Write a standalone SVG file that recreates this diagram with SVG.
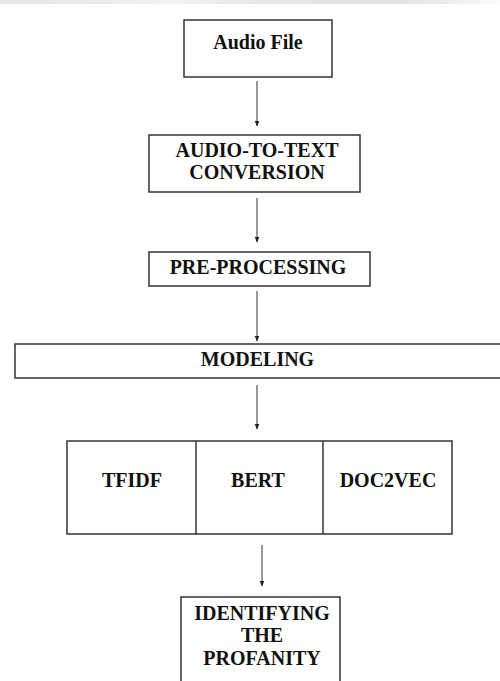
<svg xmlns="http://www.w3.org/2000/svg" width="500" height="681" viewBox="0 0 500 681">
<defs>
<marker id="ah" viewBox="0 0 6 6" refX="5.5" refY="3" markerWidth="6" markerHeight="6" markerUnits="userSpaceOnUse" orient="auto">
<path d="M0,0.5 L6,3 L0,5.5 Z" fill="#222"/>
</marker>
<linearGradient id="band" x1="0" y1="0" x2="1" y2="0">
<stop offset="0" stop-color="#e4e4e4"/>
<stop offset="0.35" stop-color="#f2f2f2"/>
<stop offset="0.55" stop-color="#e8e4e2"/>
<stop offset="0.8" stop-color="#e2e2e2"/>
<stop offset="1" stop-color="#fafafa"/>
</linearGradient>
</defs>
<style>
.box{fill:#fff;stroke:#333;stroke-width:1.5}
.t{font-family:"Liberation Serif","Times New Roman",serif;font-weight:bold;font-size:20px;fill:#111;text-anchor:middle}
.c{stroke:#555;stroke-width:1.2;fill:none;marker-end:url(#ah)}
</style>
<rect width="500" height="681" fill="#fff"/>
<rect x="0" y="0" width="500" height="4" fill="url(#band)"/>
<g id="audio-file">
<rect class="box" x="184" y="20" width="148" height="57"/>
<text class="t" x="258" y="49">Audio File</text>
</g>
<g id="audio-to-text">
<rect class="box" x="149" y="135" width="211" height="57"/>
<text class="t" x="257" y="157">AUDIO-TO-TEXT</text>
<text class="t" x="257" y="179">CONVERSION</text>
</g>
<g id="pre-processing">
<rect class="box" x="149" y="252" width="221" height="34"/>
<text class="t" x="258" y="274">PRE-PROCESSING</text>
</g>
<g id="modeling">
<path class="box" d="M502,344 H15 V378 H502"/>
<text class="t" x="257.5" y="366">MODELING</text>
</g>
<g id="models">
<rect class="box" x="67" y="441" width="385" height="93"/>
<line x1="196" y1="441" x2="196" y2="534" stroke="#333" stroke-width="1.5"/>
<line x1="323" y1="441" x2="323" y2="534" stroke="#333" stroke-width="1.5"/>
<g id="tfidf"><text class="t" x="132" y="487">TFIDF</text></g>
<g id="bert"><text class="t" x="258" y="487">BERT</text></g>
<g id="doc2vec"><text class="t" x="388" y="487">DOC2VEC</text></g>
</g>
<g id="identifying">
<path class="box" d="M181,683 V597 H340 V683"/>
<text class="t" x="262" y="620">IDENTIFYING</text>
<text class="t" x="262" y="642">THE</text>
<text class="t" x="262" y="665">PROFANITY</text>
</g>
<g id="connectors">
<line class="c" x1="257" y1="81" x2="257" y2="126"/>
<line class="c" x1="257" y1="198" x2="257" y2="242"/>
<line class="c" x1="257" y1="291" x2="257" y2="341"/>
<line class="c" x1="257" y1="385" x2="257" y2="429"/>
<line class="c" x1="262" y1="545" x2="262" y2="586"/>
</g>
</svg>
